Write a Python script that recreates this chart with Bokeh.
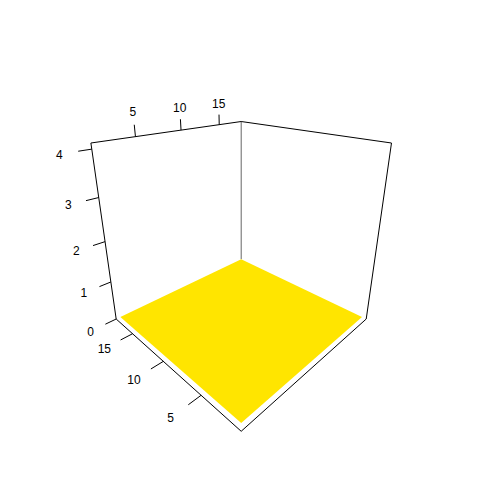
import math
from bokeh.plotting import figure
from bokeh.models import Range1d, ColumnDataSource
from bokeh.core.properties import value
from bokeh.embed import file_html
from bokeh.resources import INLINE

# ---- data ----
x_lim = [0.9, 18.3]
y_lim = [0.7, 18.1]
z_lim = [0.0, 4.12]
surf_x = [1.35, 18.3]
surf_y = [1.15, 18.1]
surf_z = 0.0
x_ticks = [5, 10, 15]
y_ticks = [5, 10, 15]
z_ticks = [0, 1, 2, 3, 4]
surface_color = "#FFE500"

# ---- view (perspective) ----
PHI = math.radians(23.3)
DIST = 3.904
EXPAND = 0.9065
CX, CY = 240.7, 238.6      # picture position of the box centre
KX, KY = 376.8, 409.2      # screen scales
W = H = 464
OFF = 0

cphi, sphi = math.cos(PHI), math.sin(PHI)
r2 = math.sqrt(2.0)


def norm(v, lim):
    return 2.0 * (v - lim[0]) / (lim[1] - lim[0]) - 1.0


def proj_n(X, Y, Z):
    Ze = EXPAND * Z
    xp = (X - Y) / r2
    q = -(X + Y) / r2
    v = Ze * cphi - q * sphi
    w = Ze * sphi + q * cphi
    d = DIST - w
    return xp / d, v / d


def proj(x, y, z):
    return proj_n(norm(x, x_lim), norm(y, y_lim), norm(z, z_lim))


p = figure(width=W, height=H, output_backend="svg", toolbar_location=None,
           x_axis_location=None, y_axis_location=None, min_border=0,
           x_range=Range1d((OFF - CX) / KX, (OFF + W - CX) / KX),
           y_range=Range1d((CY - OFF - H) / KY, (CY - OFF) / KY))
p.grid.visible = False
p.outline_line_color = None
p.background_fill_color = "white"


def seg(a, b, color="black", width=1.0):
    x0, y0 = proj(*a)
    x1, y1 = proj(*b)
    p.segment(x0=[x0], y0=[y0], x1=[x1], y1=[y1], line_color=color, line_width=width)


xl, xh = x_lim
yl, yh = y_lim
zl, zh = z_lim

# back edges
seg((xh, yh, zl), (xh, yh, zh), color="#666666", width=1.0)
seg((xl, yh, zh), (xh, yh, zh))
seg((xh, yh, zh), (xh, yl, zh))
seg((xl, yh, zl), (xl, yh, zh))
seg((xh, yl, zl), (xh, yl, zh))

# surface
corners = [(surf_x[0], surf_y[0]), (surf_x[1], surf_y[0]),
           (surf_x[1], surf_y[1]), (surf_x[0], surf_y[1])]
pts = [proj(cx, cy, surf_z) for cx, cy in corners]
p.patch(x=[pt[0] for pt in pts], y=[pt[1] for pt in pts],
        fill_color=surface_color, line_color=None)

# front bottom edges
seg((xl, yh, zl), (xl, yl, zl))
seg((xl, yl, zl), (xh, yl, zl))

font = value("Liberation Sans")
lab_x, lab_y, lab_t = [], [], []

# x ticks: on top back-left edge, pointing up (+z)
for t in x_ticks:
    X = norm(t, x_lim)
    a = proj_n(X, 1, 1)
    b = proj_n(X, 1, 1 + 0.12)
    p.segment(x0=[a[0]], y0=[a[1]], x1=[b[0]], y1=[b[1]], line_color="black")
    c = proj_n(X, 1, 1 + 0.25)
    lab_x.append(c[0]); lab_y.append(c[1]); lab_t.append(str(t))

# z ticks: on left vertical edge, pointing -x
for t in z_ticks:
    Z = norm(t, z_lim)
    a = proj_n(-1, 1, Z)
    b = proj_n(-1 - 0.13, 1, Z)
    p.segment(x0=[a[0]], y0=[a[1]], x1=[b[0]], y1=[b[1]], line_color="black")
    c = proj_n(-1 - 0.30, 1, Z)
    lab_x.append(c[0]); lab_y.append(c[1]); lab_t.append(str(t))

# y ticks: on front-left bottom edge, pointing -x
for t in y_ticks:
    Y = norm(t, y_lim)
    a = proj_n(-1, Y, -1)
    b = proj_n(-1 - 0.14, Y, -1)
    p.segment(x0=[a[0]], y0=[a[1]], x1=[b[0]], y1=[b[1]], line_color="black")
    c = proj_n(-1 - 0.32, Y, -1)
    lab_x.append(c[0]); lab_y.append(c[1]); lab_t.append(str(t))

src = ColumnDataSource(dict(x=lab_x, y=lab_y, text=lab_t))
p.text(x="x", y="y", text="text", source=src, text_font=font,
       text_font_size="12px", text_align="center", text_baseline="middle",
       text_color="black")

open("out.html", "w").write(file_html(p, INLINE))
